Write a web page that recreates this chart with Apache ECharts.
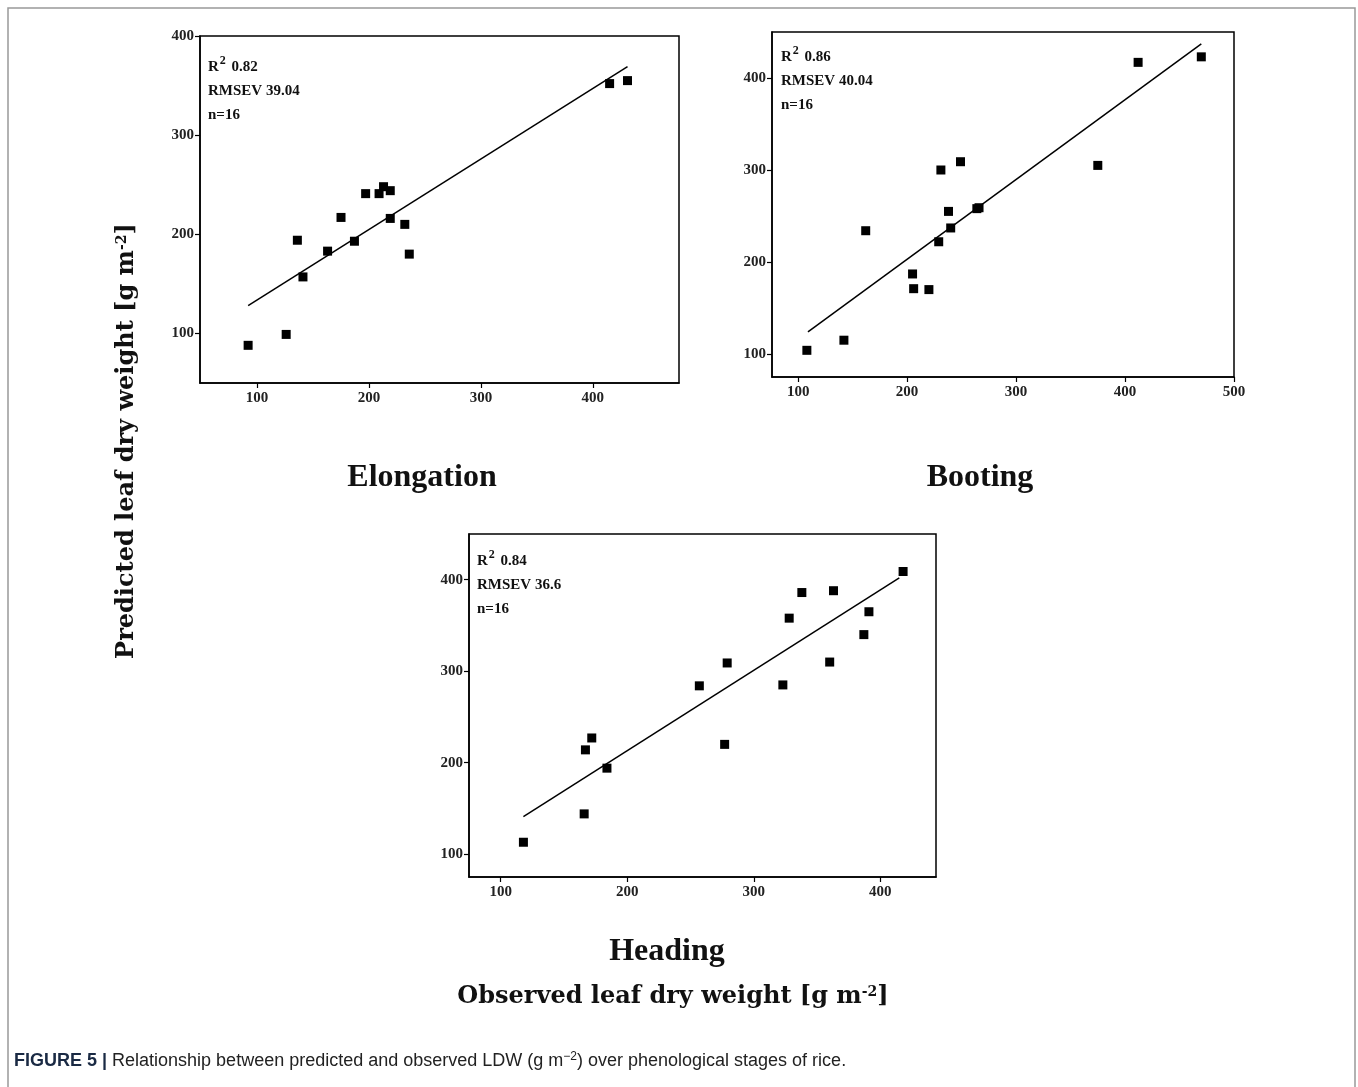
<!DOCTYPE html>
<html>
<head>
<meta charset="utf-8">
<script src="https://cdn.jsdelivr.net/npm/echarts@6.0.0/dist/echarts.min.js"></script>
<style>
html,body{margin:0;padding:0;background:#fff;}
#chart{width:1358px;height:1087px;}
</style>
</head>
<body>
<div id="chart"></div>
<script>
// ---------- data ----------
const tickValues = [100, 200, 300, 400];
const tickValuesBoot = [100, 200, 300, 400, 500];

const elongObserved  = [92, 126, 136, 141, 163, 175, 187, 197, 209, 213, 219, 219, 232, 236, 415, 431];
const elongPredicted = [88, 99, 194, 157, 183, 217, 193, 241, 241, 248, 244, 216, 210, 180, 352, 355];
const elongFitX = [92, 431];
const elongFitY = [128, 369];

const bootObserved  = [108, 142, 162, 205, 206, 220, 229, 231, 238, 240, 249, 264, 266, 375, 412, 470];
const bootPredicted = [104, 115, 234, 187, 171, 170, 222, 300, 255, 237, 309, 258, 259, 305, 417, 423];
const bootFitX = [109, 470];
const bootFitY = [124, 437];

const headObserved  = [118, 166, 167, 172, 184, 257, 277, 279, 323, 328, 338, 360, 363, 387, 391, 418];
const headPredicted = [113, 144, 214, 227, 194, 284, 220, 309, 285, 358, 386, 310, 388, 340, 365, 409];
const headFitX = [118, 415];
const headFitY = [141, 402];

const panelTitles = ['Elongation', 'Booting', 'Heading'];
const statsR2 = ['0.82', '0.86', '0.84'];
const statsRMSEV = ['39.04', '40.04', '36.6'];
const statsN = [16, 16, 16];

// ---------- helpers ----------
const serif = '"Liberation Serif", "Times New Roman", serif';
const slab = '"DejaVu Serif", serif';
const sans = '"Liberation Sans", Arial, sans-serif';
const labelStyle = { fontFamily: serif, fontWeight: 'bold', fontSize: 15, color: '#222' };

function makeX(gridIndex, min, max, ticks) {
  return {
    type: 'value', gridIndex, min, max,
    axisLine: { show: true, lineStyle: { color: '#000', width: 1.5 } },
    axisTick: { show: true, length: 5, inside: false, customValues: ticks, lineStyle: { color: '#000', width: 1.2 } },
    axisLabel: Object.assign({ customValues: ticks, margin: 8 }, labelStyle),
    splitLine: { show: false }
  };
}
function makeY(gridIndex, min, max, ticks) {
  return {
    type: 'value', gridIndex, min, max,
    axisLine: { show: true, lineStyle: { color: '#000', width: 1.5 } },
    axisTick: { show: true, length: 5, inside: false, customValues: ticks, lineStyle: { color: '#000', width: 1.2 } },
    axisLabel: Object.assign({ customValues: ticks, margin: 6 }, labelStyle),
    splitLine: { show: false }
  };
}
function pairs(xs, ys) { return xs.map((x, i) => [x, ys[i]]); }
function scatter(i, xs, ys) {
  return { type: 'scatter', xAxisIndex: i, yAxisIndex: i, data: pairs(xs, ys),
    symbol: 'rect', symbolSize: 9, itemStyle: { color: '#000', opacity: 1 }, z: 3 };
}
function fit(i, xs, ys) {
  return { type: 'line', xAxisIndex: i, yAxisIndex: i, data: pairs(xs, ys),
    showSymbol: false, lineStyle: { color: '#000', width: 1.5 }, z: 2, silent: true };
}
function stats(i, left, top) {
  return {
    type: 'text', left, top,
    style: {
      text: '{b|R}{s|2}{b| ' + statsR2[i] + '}\n{b|RMSEV ' + statsRMSEV[i] + '}\n{b|n=' + statsN[i] + '}',
      rich: {
        b: { fontFamily: serif, fontWeight: 'bold', fontSize: 15, fill: '#111', lineHeight: 24 },
        s: { fontFamily: serif, fontWeight: 'bold', fontSize: 12, fill: '#111', verticalAlign: 'top', lineHeight: 24, padding: [0, 2, 8, 1] }
      }
    }
  };
}

const chart = echarts.init(document.getElementById('chart'), null, { renderer: 'canvas' });

const grids = [
  { left: 200, top: 36, width: 479, height: 347 },
  { left: 772, top: 32, width: 462, height: 345 },
  { left: 469, top: 534, width: 467, height: 343 }
].map(g => Object.assign(g, { show: true, borderColor: '#000', borderWidth: 1.5, backgroundColor: '#fff', outerBoundsMode: 'none', containLabel: false }));

const titleStyle = { fontFamily: serif, fontWeight: 'bold', fontSize: 32, fill: '#111', align: 'center', verticalAlign: 'middle' };

const option = {
  backgroundColor: '#fff',
  animation: false,
  grid: grids,
  xAxis: [
    makeX(0, 49, 477, tickValues),
    makeX(1, 76, 500, tickValuesBoot),
    makeX(2, 75, 444, tickValues)
  ],
  yAxis: [
    makeY(0, 50, 400, tickValues),
    makeY(1, 75, 450, tickValues),
    makeY(2, 75, 450, tickValues)
  ],
  series: [
    fit(0, elongFitX, elongFitY), scatter(0, elongObserved, elongPredicted),
    fit(1, bootFitX, bootFitY), scatter(1, bootObserved, bootPredicted),
    fit(2, headFitX, headFitY), scatter(2, headObserved, headPredicted)
  ],
  graphic: [
    // outer frame
    { type: 'rect', shape: { x: 8, y: 8, width: 1347, height: 1100 }, style: { fill: 'none', stroke: '#999', lineWidth: 1.5 }, z: -1 },
    stats(0, 208, 55),
    stats(1, 781, 45),
    stats(2, 477, 549),
    { type: 'text', x: 422, y: 478, style: Object.assign({ text: panelTitles[0] }, titleStyle) },
    { type: 'text', x: 980, y: 478, style: Object.assign({ text: panelTitles[1] }, titleStyle) },
    { type: 'text', x: 667, y: 952, style: Object.assign({ text: panelTitles[2] }, titleStyle) },
    { type: 'text', x: 673, y: 997, style: {
        text: '{t|Observed leaf dry weight [g m}{s|-2}{t|]}', align: 'center', verticalAlign: 'middle',
        rich: {
          t: { fontFamily: slab, fontWeight: 'bold', fontSize: 24, fill: '#111' },
          s: { fontFamily: slab, fontWeight: 'bold', fontSize: 14, fill: '#111', verticalAlign: 'top', padding: [0, 0, 10, 0] }
        } } },
    { type: 'text', x: 127, y: 441, rotation: Math.PI / 2, style: {
        text: '{t|Predicted leaf dry weight [g m}{s|-2}{t|]}', align: 'center', verticalAlign: 'middle',
        rich: {
          t: { fontFamily: slab, fontWeight: 'bold', fontSize: 24, fill: '#111' },
          s: { fontFamily: slab, fontWeight: 'bold', fontSize: 14, fill: '#111', verticalAlign: 'top', padding: [0, 0, 10, 0] }
        } } },
    { type: 'text', left: 14, top: 1051, style: {
        text: '{b|FIGURE 5 |}{n| Relationship between predicted and observed LDW (g m}{s|−2}{n|) over phenological stages of rice.}',
        rich: {
          b: { fontFamily: sans, fontWeight: 'bold', fontSize: 18, fill: '#1a2a44' },
          n: { fontFamily: sans, fontSize: 18, fill: '#222' },
          s: { fontFamily: sans, fontSize: 12, fill: '#222', verticalAlign: 'top', padding: [0, 0, 8, 0] }
        } } }
  ]
};
chart.setOption(option);
</script>
</body>
</html>
